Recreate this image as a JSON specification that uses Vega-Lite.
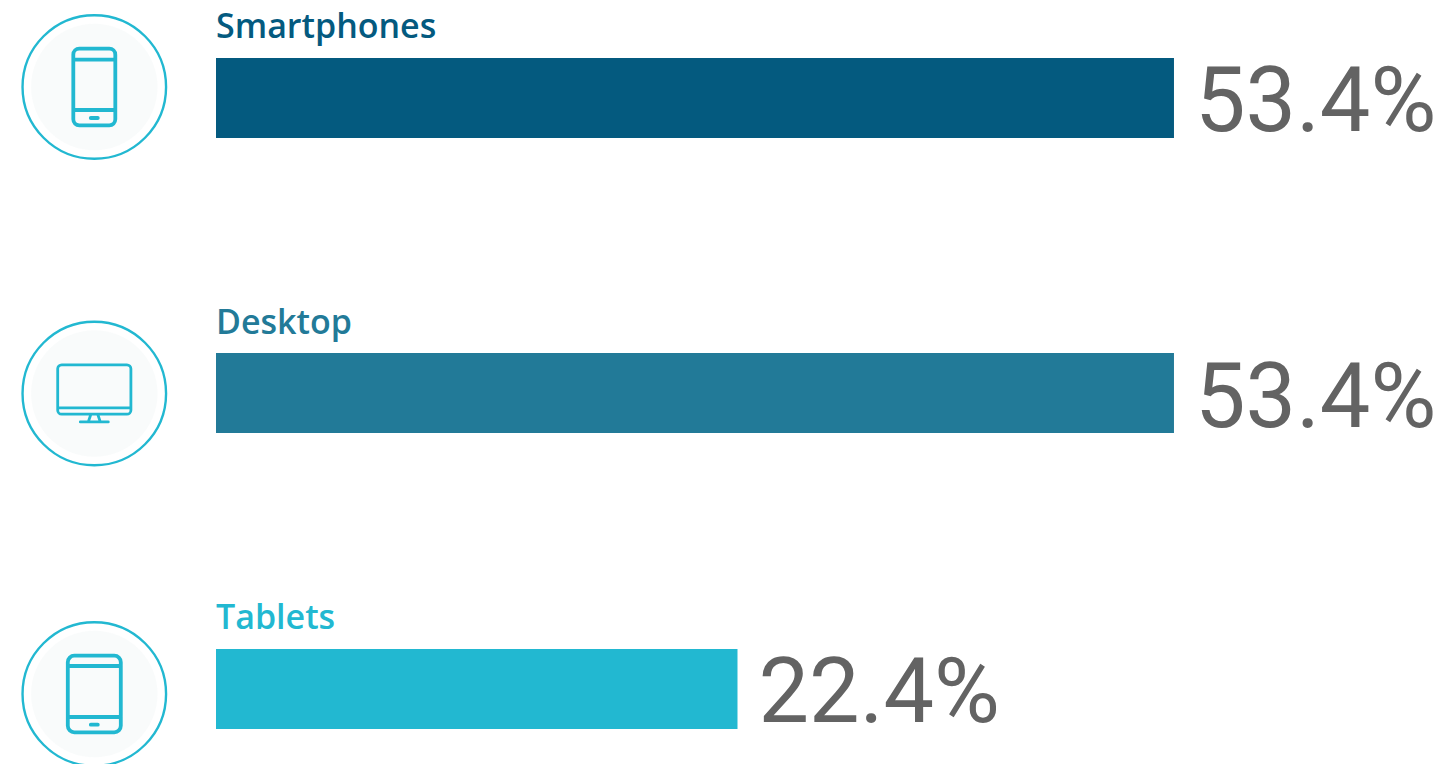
{
  "$schema": "https://vega.github.io/schema/vega-lite/v6.json",
  "description": "Share of users by device. Bars run on a power scale, so their lengths are not proportional to the printed percentages.",
  "width": 1443,
  "height": 764,
  "padding": 0,
  "autosize": {"type": "none"},
  "background": "#ffffff",
  "view": {"stroke": null},
  "data": {
    "values": [
      {"device": "Smartphones", "share": 0.534},
      {"device": "Desktop", "share": 0.534},
      {"device": "Tablets", "share": 0.224}
    ]
  },
  "encoding": {
    "y": {
      "field": "device",
      "type": "ordinal",
      "axis": null,
      "scale": {"type": "point", "domain": ["Smartphones", "Desktop", "Tablets"], "range": [98, 689], "padding": 0}
    }
  },
  "layer": [
    {
      "transform": [{"filter": "datum.device !== 'Desktop'"}],
      "mark": {"type": "bar", "size": 80},
      "encoding": {
        "x": {
          "field": "share",
          "type": "quantitative",
          "axis": null,
          "stack": null,
          "scale": {"type": "pow", "exponent": 0.7, "domain": [0, 0.7605], "range": [216, 1443], "nice": false, "clamp": false}
        },
        "color": {
          "field": "device",
          "type": "nominal",
          "legend": null,
          "scale": {"domain": ["Smartphones", "Desktop", "Tablets"], "range": ["#045a7f", "#227a98", "#22b8d1"]}
        }
      }
    },
    {
      "transform": [{"filter": "datum.device === 'Desktop'"}],
      "mark": {"type": "bar", "size": 80, "yOffset": -0.5},
      "encoding": {
        "x": {"field": "share", "type": "quantitative", "stack": null},
        "color": {"field": "device", "type": "nominal"}
      }
    },
    {
      "mark": {"type": "text", "align": "left", "baseline": "alphabetic", "dy": -60, "font": "Open Sans", "fontWeight": 600, "fontSize": 34},
      "encoding": {
        "x": {"datum": 0, "type": "quantitative"},
        "text": {"field": "device", "type": "nominal"},
        "color": {"field": "device", "type": "nominal"}
      }
    },
    {
      "mark": {"type": "text", "align": "left", "baseline": "alphabetic", "dx": 21, "dy": 33, "font": "Roboto", "fontWeight": 400, "fontSize": 90, "color": "#636363"},
      "encoding": {
        "x": {"field": "share", "type": "quantitative"},
        "text": {"field": "share", "type": "quantitative", "format": ".1%"}
      }
    },
    {
      "transform": [{"filter": "datum.device === 'Smartphones'"}],
      "layer": [
        {"mark": {"type": "point", "filled": true, "size": 15977, "shape": "circle", "color": "#f7f9f9", "xOffset": -121.7, "yOffset": -11}, "encoding": {"x": {"datum": 0, "type": "quantitative"}}},
        {"mark": {"type": "point", "filled": false, "size": 20600, "shape": "circle", "stroke": "#22b8d1", "strokeWidth": 2.4, "opacity": 1, "xOffset": -121.7, "yOffset": -11}, "encoding": {"x": {"datum": 0, "type": "quantitative"}}},
        {"mark": {"type": "point", "filled": false, "size": 10000, "opacity": 1, "stroke": "#22b8d1", "strokeWidth": 3.8, "strokeCap": "round", "xOffset": -121.7, "yOffset": -11,
          "shape": "M-0.30 -0.766H0.30A0.12 0.12 0 0 1 0.42 -0.646V0.646A0.12 0.12 0 0 1 0.30 0.766H-0.30A0.12 0.12 0 0 1 -0.42 0.646V-0.646A0.12 0.12 0 0 1 -0.30 -0.766ZM-0.42 -0.546H0.42M-0.42 0.46H0.42M-0.07 0.62H0.07"},
          "encoding": {"x": {"datum": 0, "type": "quantitative"}}}
      ]
    },
    {
      "transform": [{"filter": "datum.device === 'Desktop'"}],
      "layer": [
        {"mark": {"type": "point", "filled": true, "size": 15977, "shape": "circle", "color": "#f7f9f9", "xOffset": -121.7, "yOffset": 0}, "encoding": {"x": {"datum": 0, "type": "quantitative"}}},
        {"mark": {"type": "point", "filled": false, "size": 20600, "shape": "circle", "stroke": "#22b8d1", "strokeWidth": 2.4, "opacity": 1, "xOffset": -121.7, "yOffset": 0}, "encoding": {"x": {"datum": 0, "type": "quantitative"}}},
        {"mark": {"type": "point", "filled": false, "size": 10000, "opacity": 1, "stroke": "#22b8d1", "strokeWidth": 2.8, "strokeCap": "round", "xOffset": -121.7, "yOffset": 0,
          "shape": "M-0.652 -0.574H0.652A0.08 0.08 0 0 1 0.732 -0.494V0.334A0.08 0.08 0 0 1 0.652 0.414H-0.652A0.08 0.08 0 0 1 -0.732 0.334V-0.494A0.08 0.08 0 0 1 -0.652 -0.574ZM-0.732 0.288H0.732M-0.07 0.42L-0.12 0.568M0.07 0.42L0.12 0.568M-0.28 0.568H0.28"},
          "encoding": {"x": {"datum": 0, "type": "quantitative"}}}
      ]
    },
    {
      "transform": [{"filter": "datum.device === 'Tablets'"}],
      "layer": [
        {"mark": {"type": "point", "filled": true, "size": 15977, "shape": "circle", "color": "#f7f9f9", "xOffset": -121.7, "yOffset": 5}, "encoding": {"x": {"datum": 0, "type": "quantitative"}}},
        {"mark": {"type": "point", "filled": false, "size": 20600, "shape": "circle", "stroke": "#22b8d1", "strokeWidth": 2.4, "opacity": 1, "xOffset": -121.7, "yOffset": 5}, "encoding": {"x": {"datum": 0, "type": "quantitative"}}},
        {"mark": {"type": "point", "filled": false, "size": 10000, "opacity": 1, "stroke": "#22b8d1", "strokeWidth": 3.8, "strokeCap": "round", "xOffset": -121.7, "yOffset": 5,
          "shape": "M-0.40 -0.767H0.40A0.13 0.13 0 0 1 0.53 -0.637V0.637A0.13 0.13 0 0 1 0.40 0.767H-0.40A0.13 0.13 0 0 1 -0.53 0.637V-0.637A0.13 0.13 0 0 1 -0.40 -0.767ZM-0.53 -0.56H0.53M-0.53 0.46H0.53M-0.07 0.614H0.07"},
          "encoding": {"x": {"datum": 0, "type": "quantitative"}}}
      ]
    }
  ]
}
